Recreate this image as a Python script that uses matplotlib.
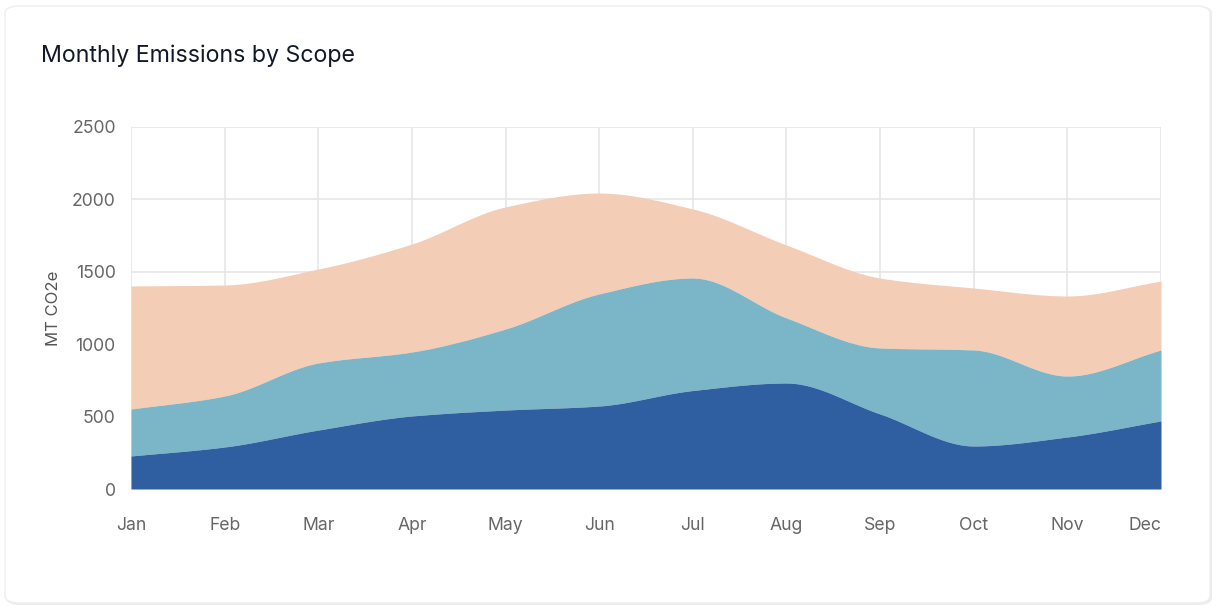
import numpy as np
import matplotlib.pyplot as plt
from matplotlib.patches import FancyBboxPatch

plt.rcParams['font.family'] = ['Inter', 'DejaVu Sans']

months = ["Jan", "Feb", "Mar", "Apr", "May", "Jun", "Jul", "Aug", "Sep", "Oct", "Nov", "Dec"]
scope1 = [228, 290, 407, 504, 545, 573, 680, 732, 518, 297, 359, 470]
scope2 = [324, 352, 463, 442, 560, 774, 777, 449, 456, 663, 421, 490]
scope3 = [850, 767, 649, 746, 843, 697, 477, 504, 483, 428, 553, 476]

colors = ["#2f5ea1", "#7bb5c8", "#f3cdb6"]


def monotone(x, y, n=400):
    # monotone cubic (Fritsch-Carlson) just for drawing smooth edges
    x = np.asarray(x, float)
    y = np.asarray(y, float)
    h = np.diff(x)
    d = np.diff(y) / h
    m = np.zeros_like(y)
    m[0], m[-1] = d[0], d[-1]
    for i in range(1, len(y) - 1):
        if d[i - 1] * d[i] <= 0:
            m[i] = 0
        else:
            w1 = 2 * h[i] + h[i - 1]
            w2 = h[i] + 2 * h[i - 1]
            m[i] = (w1 + w2) / (w1 / d[i - 1] + w2 / d[i])
    xs = np.linspace(x[0], x[-1], n)
    idx = np.clip(np.searchsorted(x, xs) - 1, 0, len(x) - 2)
    t = (xs - x[idx]) / h[idx]
    h00 = 2 * t**3 - 3 * t**2 + 1
    h10 = t**3 - 2 * t**2 + t
    h01 = -2 * t**3 + 3 * t**2
    h11 = t**3 - t**2
    ys = h00 * y[idx] + h10 * h[idx] * m[idx] + h01 * y[idx + 1] + h11 * h[idx] * m[idx + 1]
    return xs, ys


fig = plt.figure(figsize=(12.16, 6.08), dpi=100)
fig.patch.set_facecolor("white")

# card
shadow = FancyBboxPatch((6 / 1216, 3 / 608), 1206 / 1216, 599 / 608,
                        boxstyle="round,pad=0,rounding_size=0.012",
                        transform=fig.transFigure, facecolor="#ececec", edgecolor="none", zorder=-3)
card = FancyBboxPatch((5 / 1216, 5 / 608), 1205 / 1216, 597 / 608,
                      boxstyle="round,pad=0,rounding_size=0.012",
                      transform=fig.transFigure, facecolor="white", edgecolor="#eeeeee", lw=1, zorder=-2)
fig.patches.extend([shadow, card])

ax = fig.add_axes([131 / 1216, 1 - 489 / 608, 1030 / 1216, 362 / 608])
ax.set_facecolor("none")

x = np.arange(len(months))
s1 = np.array(scope1)
s12 = s1 + np.array(scope2)
tot = s12 + np.array(scope3)

xs, y1 = monotone(x, s1)
_, y2 = monotone(x, s12)
_, y3 = monotone(x, tot)

ax.fill_between(xs, y2, y3, color=colors[2], lw=0, zorder=2)
ax.fill_between(xs, y1, y2, color=colors[1], lw=0, zorder=2)
ax.fill_between(xs, 0, y1, color=colors[0], lw=0, zorder=2)

ax.set_xlim(0, 11)
ax.set_ylim(0, 2500)
ax.set_yticks([0, 500, 1000, 1500, 2000, 2500])
ax.set_xticks(x)
ax.set_xticklabels(months)
ax.grid(True, color="#e6e6e6", lw=1.2, zorder=0)
ax.set_axisbelow(True)
for s in ax.spines.values():
    s.set_visible(False)
ax.axhline(0, color="#e0e0e0", lw=1.5, zorder=1)
ax.tick_params(length=0, labelsize=12.7, labelcolor="#666666")
ax.tick_params(axis="x", pad=20)
ax.tick_params(axis="y", pad=11)
ax.get_xticklabels()[-1].set_ha("right")

ax.set_ylabel("MT CO2e", fontsize=12, color="#555555", labelpad=8)

fig.text(41 / 1216, 1 - 56 / 608, "Monthly Emissions by Scope", fontsize=16.7,
         color="#111827", va="center", ha="left")

fig.savefig("out.png", dpi=100)
